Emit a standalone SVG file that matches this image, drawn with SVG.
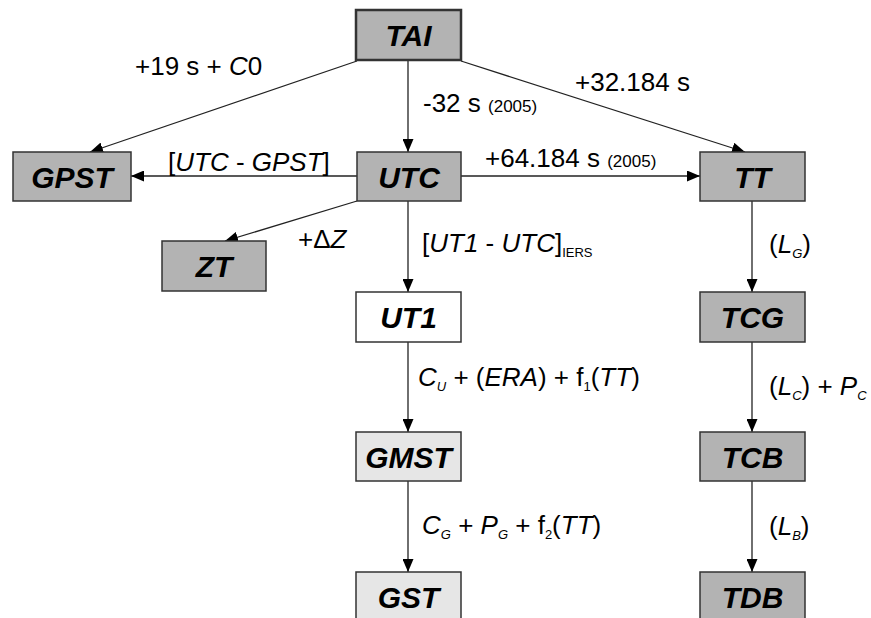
<svg xmlns="http://www.w3.org/2000/svg" width="871" height="618" viewBox="0 0 871 618">
<defs>
<marker id="ah" markerUnits="userSpaceOnUse" markerWidth="13" markerHeight="11" refX="13" refY="5.5" orient="auto">
<path d="M0,0 L13,5.5 L0,11 z" fill="#000"/>
</marker>
<style>
.box{stroke:#333;stroke-width:1.5}
.dark{fill:#b3b3b3}
.light{fill:#e6e6e6}
.white{fill:#fff}
.nl{font-family:"Liberation Sans",Arial,sans-serif;font-weight:bold;font-style:italic;font-size:30px;text-anchor:middle;fill:#000}
.lb{font-family:"Liberation Sans",Arial,sans-serif;font-size:26px;fill:#000}
.sm{font-size:17px}
.sub{font-size:13px}
.it{font-style:italic}
.con{stroke:#222;stroke-width:1.3;fill:none;marker-end:url(#ah)}
</style>
</defs>
<rect width="871" height="618" fill="#fff"/>
<g id="connectors">
<path class="con" d="M408,61 L408,152"/>
<path class="con" d="M357,61 L90,152"/>
<path class="con" d="M461,61 L745,152"/>
<path class="con" d="M357,176 L131,176"/>
<path class="con" d="M461,176 L700,176"/>
<path class="con" d="M357,201 L225,241"/>
<path class="con" d="M408,201 L408,292"/>
<path class="con" d="M408,342 L408,432"/>
<path class="con" d="M408,481 L408,572"/>
<path class="con" d="M752,201 L752,292"/>
<path class="con" d="M752,342 L752,432"/>
<path class="con" d="M752,481 L752,572"/>
</g>
<g id="TAI"><rect class="box dark" x="356" y="10" width="105" height="50" style="stroke-width:2.5"/><text class="nl" x="408.5" y="46">TAI</text></g>
<g id="GPST"><rect class="box dark" x="13" y="152" width="118" height="49"/><text class="nl" x="72" y="188">GPST</text></g>
<g id="UTC"><rect class="box dark" x="357" y="152" width="104" height="49"/><text class="nl" x="409" y="188">UTC</text></g>
<g id="TT"><rect class="box dark" x="700" y="152" width="105" height="49"/><text class="nl" x="752.5" y="188">TT</text></g>
<g id="ZT"><rect class="box dark" x="162" y="241" width="104" height="50"/><text class="nl" x="214" y="277">ZT</text></g>
<g id="UT1"><rect class="box white" x="356" y="292" width="105" height="50"/><text class="nl" x="408.5" y="328">UT1</text></g>
<g id="TCG"><rect class="box dark" x="700" y="292" width="105" height="50"/><text class="nl" x="752.5" y="328">TCG</text></g>
<g id="GMST"><rect class="box light" x="356" y="432" width="105" height="49"/><text class="nl" x="408.5" y="468">GMST</text></g>
<g id="TCB"><rect class="box dark" x="700" y="432" width="105" height="49"/><text class="nl" x="752.5" y="468">TCB</text></g>
<g id="GST"><rect class="box light" x="356" y="572" width="105" height="50"/><text class="nl" x="408.5" y="608">GST</text></g>
<g id="TDB"><rect class="box dark" x="700" y="572" width="105" height="50"/><text class="nl" x="752.5" y="608">TDB</text></g>
<g id="labels">
<text class="lb" x="135" y="75">+19 s + <tspan class="it">C</tspan>0</text>
<text class="lb" x="423" y="112">-32 s <tspan class="sm">(2005)</tspan></text>
<text class="lb" x="575" y="91">+32.184 s</text>
<text class="lb" x="168" y="171">[<tspan class="it">UTC</tspan> - <tspan class="it">GPST</tspan>]</text>
<text class="lb" x="485" y="167">+64.184 s <tspan class="sm">(2005)</tspan></text>
<text class="lb" x="298" y="248">+Δ<tspan class="it">Z</tspan></text>
<text class="lb" x="422" y="252">[<tspan class="it">UT1</tspan> - <tspan class="it">UTC</tspan>]<tspan class="sub" dy="5">IERS</tspan></text>
<text class="lb" x="418" y="386"><tspan class="it">C</tspan><tspan class="sub it" dy="5">U</tspan><tspan dy="-5"> + (</tspan><tspan class="it">ERA</tspan>) + f<tspan class="sub" dy="5">1</tspan><tspan dy="-5">(</tspan><tspan class="it">TT</tspan>)</text>
<text class="lb" x="422" y="534"><tspan class="it">C</tspan><tspan class="sub it" dy="5">G</tspan><tspan dy="-5"> + </tspan><tspan class="it">P</tspan><tspan class="sub it" dy="5">G</tspan><tspan dy="-5"> + f</tspan><tspan class="sub" dy="5">2</tspan><tspan dy="-5">(</tspan><tspan class="it">TT</tspan>)</text>
<text class="lb" x="769" y="253">(<tspan class="it">L</tspan><tspan class="sub it" dy="5">G</tspan><tspan dy="-5">)</tspan></text>
<text class="lb" x="769" y="395">(<tspan class="it">L</tspan><tspan class="sub it" dy="5">C</tspan><tspan dy="-5">) + </tspan><tspan class="it">P</tspan><tspan class="sub it" dy="5">C</tspan></text>
<text class="lb" x="769" y="535">(<tspan class="it">L</tspan><tspan class="sub it" dy="5">B</tspan><tspan dy="-5">)</tspan></text>
</g>
</svg>
